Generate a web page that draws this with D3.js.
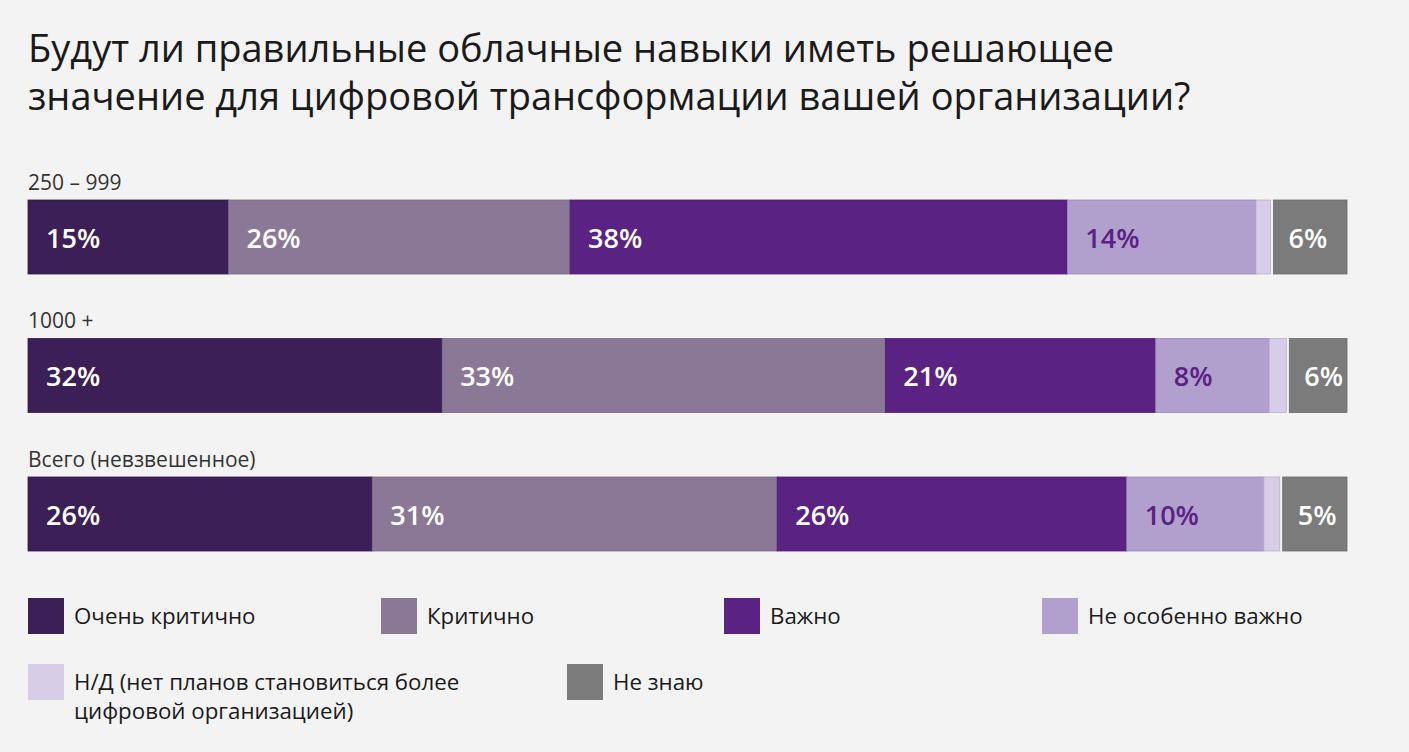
<!DOCTYPE html>
<html>
<head>
<meta charset="utf-8">
<script src="https://cdn.jsdelivr.net/npm/d3@7"></script>
<style>
  html, body { margin: 0; padding: 0; background: #f3f3f3; }
  #dataviz { width: 1409px; height: 752px; }
  text { font-family: "Open Sans", "Noto Sans", sans-serif; }
</style>
</head>
<body>
<div id="dataviz"></div>
<script>
// title lines
var titleLines = [
  "Будут ли правильные облачные навыки иметь решающее",
  "значение для цифровой трансформации вашей организации?"
];

// groups (rows)
var groups = ["250 – 999", "1000 +", "Всего (невзвешенное)"];

// answer categories
var categories = ["Очень критично", "Критично", "Важно", "Не особенно важно",
  "Н/Д (нет планов становиться более цифровой организацией)", "Не знаю"];
var colors = ["#3b1f56", "#8b7896", "#5a2282", "#b19fcd", "#d7cde7", "#7b7b7b"];
var labelColors = ["#ffffff", "#ffffff", "#ffffff", "#5a2282", null, "#ffffff"];

// segment shares per row (same order as categories)
var values250 = [15.2, 25.9, 37.7, 14.3, 1.1, 5.8];
var values1000 = [31.4, 33.6, 20.5, 8.6, 1.3, 4.6];
var valuesTotal = [26.1, 30.7, 26.5, 10.4, 1.2, 5.1];

// printed labels
var labels250 = ["15%", "26%", "38%", "14%", "", "6%"];
var labels1000 = ["32%", "33%", "21%", "8%", "", "6%"];
var labelsTotal = ["26%", "31%", "26%", "10%", "", "5%"];

var rows = [
  {name: groups[0], values: values250, labels: labels250},
  {name: groups[1], values: values1000, labels: labels1000},
  {name: groups[2], values: valuesTotal, labels: labelsTotal}
];

var width = 1409, height = 752;

var svg = d3.select("#dataviz")
  .append("svg")
    .attr("width", width)
    .attr("height", height);

svg.append("rect")
  .attr("width", width)
  .attr("height", height)
  .attr("fill", "#f3f3f3");

// title
svg.selectAll(".title")
  .data(titleLines)
  .enter()
  .append("text")
    .attr("class", "title")
    .attr("x", 28)
    .attr("y", function(d, i) { return 62 + i * 48; })
    .attr("fill", "#1a1a1a")
    .style("font-size", "38px")
    .text(function(d) { return d; });

// scales
var x = d3.scaleLinear().domain([0, 100]).range([28, 1347]);
var y = d3.scaleBand().domain(groups).range([200, 551]).paddingInner(0.4657);

// stack each row
rows.forEach(function(row) {
  var acc = 0;
  row.segs = row.values.map(function(v, i) {
    var s = {x0: acc, x1: acc + v, i: i, label: row.labels[i]};
    acc += v;
    return s;
  });
});

var rowG = svg.selectAll(".row")
  .data(rows)
  .enter()
  .append("g")
    .attr("class", "row")
    .attr("transform", function(d) { return "translate(0," + y(d.name) + ")"; });

rowG.append("text")
  .attr("x", 28)
  .attr("y", -10)
  .attr("fill", "#333")
  .style("font-size", "21px")
  .text(function(d) { return d.name; });

rowG.selectAll("rect")
  .data(function(d) { return d.segs; })
  .enter()
  .append("rect")
    .attr("x", function(d) { return x(d.x0) + (d.i === 5 ? 3 : 0); })
    .attr("width", function(d) { return x(d.x1) - x(d.x0) - (d.i === 5 ? 3 : 0); })
    .attr("y", 0)
    .attr("height", y.bandwidth())
    .attr("fill", function(d) { return colors[d.i]; })
    .attr("stroke", function(d) { return d3.color(colors[d.i]).darker(0.4); })
    .attr("stroke-width", 0.8);

rowG.selectAll(".val")
  .data(function(d) { return d.segs.filter(function(s) { return s.label; }); })
  .enter()
  .append("text")
    .attr("class", "val")
    .attr("x", function(d) { return x(d.x0) + 18; })
    .attr("y", y.bandwidth() / 2 + 11)
    .attr("fill", function(d) { return labelColors[d.i]; })
    .style("font-size", "27px")
    .style("font-weight", 600)
    .text(function(d) { return d.label; });

// legend
var legendPos = [[28, 598], [381, 598], [724, 598], [1042, 598], [28, 664], [567, 664]];
var legendText = [["Очень критично"], ["Критично"], ["Важно"], ["Не особенно важно"],
  ["Н/Д (нет планов становиться более", "цифровой организацией)"], ["Не знаю"]];

var leg = svg.selectAll(".legend")
  .data(categories)
  .enter()
  .append("g")
    .attr("class", "legend")
    .attr("transform", function(d, i) { return "translate(" + legendPos[i][0] + "," + legendPos[i][1] + ")"; });

leg.append("rect")
  .attr("width", 36)
  .attr("height", 36)
  .attr("fill", function(d, i) { return colors[i]; });

leg.each(function(d, i) {
  d3.select(this).selectAll("text")
    .data(legendText[i])
    .enter()
    .append("text")
      .attr("x", 46)
      .attr("y", function(t, j) { return 26 + j * 29; })
      .attr("fill", "#1a1a1a")
      .style("font-size", "22.3px")
      .text(function(t) { return t; });
});
</script>
</body>
</html>
